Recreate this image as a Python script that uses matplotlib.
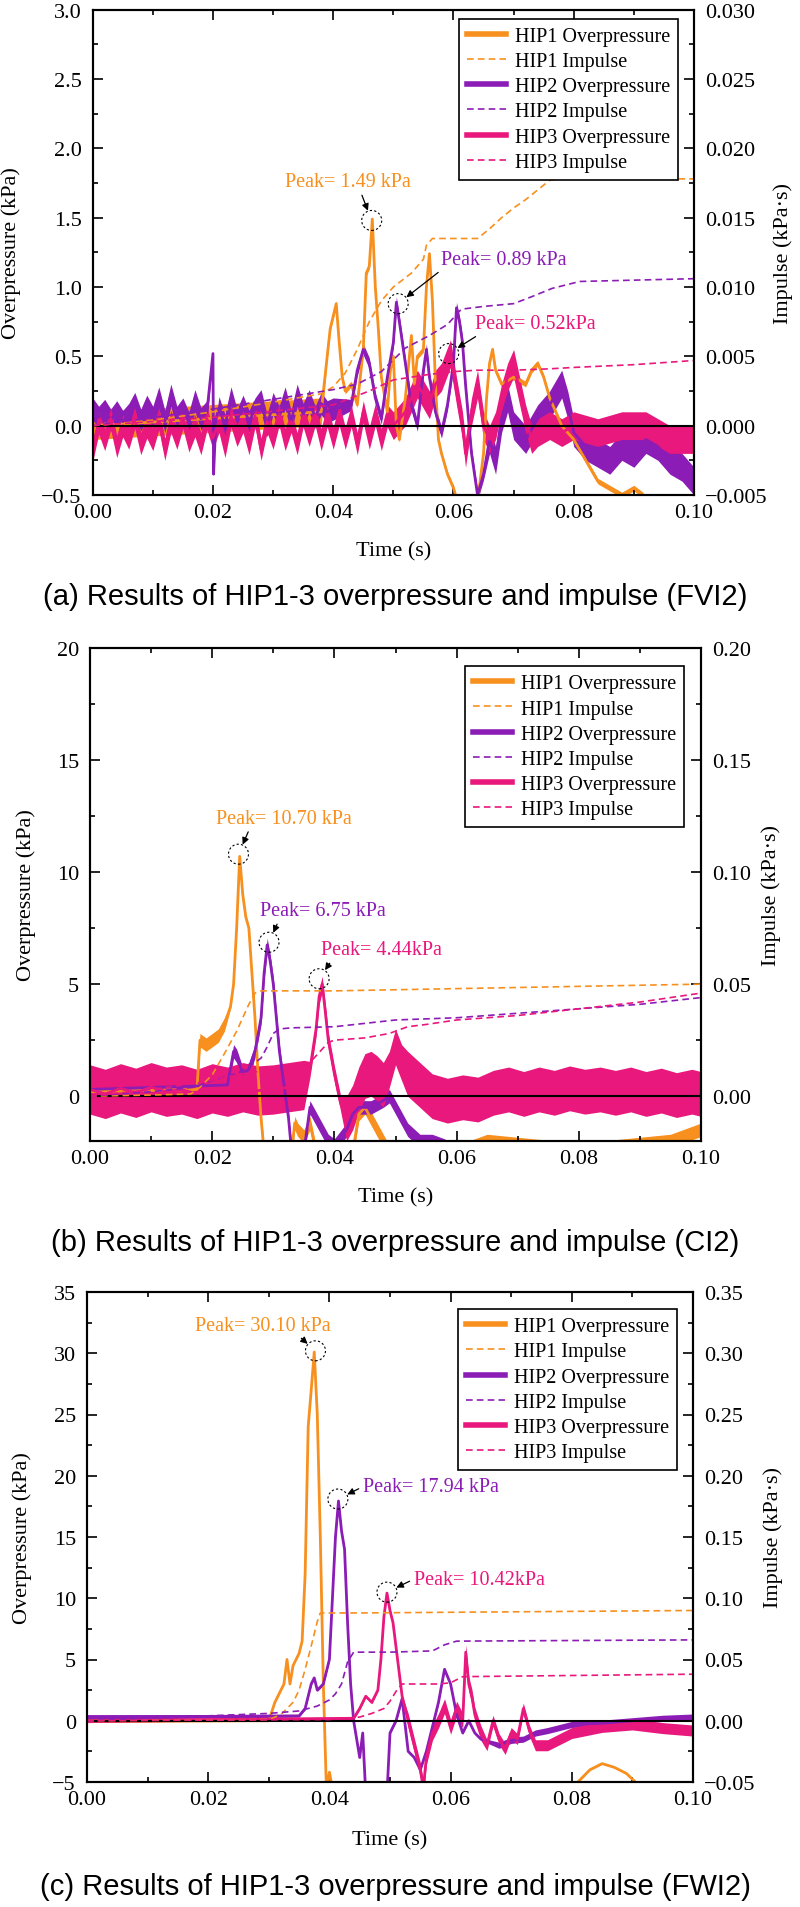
"""
Blast overpressure / impulse panels (FVI2, CI2, FWI2) for HIP1-3.
"""

import numpy as np
import matplotlib
matplotlib.use('Agg')
import matplotlib.pyplot as plt
from matplotlib.lines import Line2D
from matplotlib.patches import Circle
from matplotlib.transforms import ScaledTranslation
from matplotlib.ticker import MultipleLocator, FuncFormatter

plt.rcParams['font.family'] = ['Liberation Serif', 'DejaVu Serif']

# ---------------------------------------------------------------- data
# (a) FVI2  -- overpressure in kPa, impulse in kPa*s, time in s
fvi2_hip1_t = [0, 0.038, 0.039, 0.0395, 0.0405, 0.041, 0.0415, 0.042, 0.043, 0.044,
               0.045, 0.0455, 0.046, 0.0465, 0.047, 0.0475, 0.048, 0.049, 0.0495, 0.050,
               0.0505, 0.051, 0.052, 0.053, 0.0535, 0.054, 0.055, 0.0555, 0.056, 0.0565,
               0.057, 0.0575, 0.058, 0.059, 0.060, 0.061, 0.0625, 0.064, 0.065, 0.0655,
               0.066, 0.0665, 0.067, 0.068, 0.070, 0.072, 0.073, 0.074, 0.075, 0.076,
               0.078, 0.080, 0.082, 0.084, 0.086, 0.088, 0.090, 0.0915, 0.093, 0.1]
fvi2_hip1_p = [0.0, 0.1, 0.5, 0.7, 0.88, 0.6, 0.35, 0.25, 0.3, 0.15,
               0.55, 1.1, 1.15, 1.49, 1.0, 0.7, 0.35, 0.1, 0.4, 0.5,
               0.0, -0.1, 0.2, 0.65, 0.3, 0.5, 0.55, 1.0, 1.24, 0.9,
               0.3, -0.1, -0.2, -0.35, -0.45, -0.6, -0.7, -0.55, -0.2, 0.2,
               0.45, 0.55, 0.4, 0.3, 0.35, 0.3, 0.4, 0.45, 0.35, 0.2,
               0.0, -0.1, -0.25, -0.4, -0.45, -0.5, -0.45, -0.5, -0.7, -0.8]
fvi2_hip1_noise = [(0, 0.1), (0.0385, 0.02)]

fvi2_hip2_t = [0.000, 0.001, 0.002, 0.003, 0.004, 0.005, 0.006, 0.007, 0.008, 0.009,
               0.010, 0.011, 0.012, 0.013, 0.014, 0.015, 0.016, 0.017, 0.018, 0.019,
               0.020, 0.0201, 0.0205, 0.021, 0.022, 0.023, 0.024, 0.025, 0.026, 0.027,
               0.028, 0.029, 0.030, 0.031, 0.032, 0.033, 0.034, 0.035, 0.036, 0.037,
               0.038, 0.039, 0.040, 0.043, 0.044, 0.045, 0.046,
               0.047, 0.048, 0.049, 0.050, 0.0505, 0.051, 0.0515, 0.052, 0.053, 0.054,
               0.055, 0.0555, 0.056, 0.057, 0.058, 0.059, 0.060, 0.0605, 0.061, 0.0615,
               0.062, 0.063, 0.064, 0.065, 0.066, 0.067, 0.068, 0.069, 0.070, 0.072,
               0.074, 0.076, 0.078, 0.079, 0.080, 0.082, 0.084, 0.086, 0.088, 0.090,
               0.092, 0.094, 0.096, 0.098, 0.100]
fvi2_hip2_p = [0.12, 0.06, 0.11, 0.04, 0.10, 0.03, 0.08, 0.16, 0.04, 0.14,
               0.06, 0.20, 0.03, 0.22, 0.06, 0.12, 0.02, 0.18, 0.05, 0.10,
               0.52, -0.35, 0.05, 0.13, 0.0, 0.20, 0.04, 0.14, 0.03, 0.12,
               0.18, 0.0, 0.16, 0.06, 0.20, 0.03, 0.22, 0.08, 0.18, 0.06,
               0.16, 0.10, 0.12, 0.15, 0.4, 0.55, 0.45,
               0.2, 0.05, 0.35, 0.6, 0.89, 0.75, 0.6, 0.45, 0.15, 0.0,
               0.4, 0.55, 0.35, 0.1, -0.05, 0.15, 0.45, 0.85, 0.75, 0.6,
               0.3, -0.2, -0.5, -0.35, -0.1, -0.25, 0.05, 0.2, 0.0, -0.1,
               0.05, 0.15, 0.3, 0.15, -0.05, -0.15, -0.2, -0.25, -0.15, -0.2,
               -0.1, -0.15, -0.25, -0.3, -0.4]
fvi2_hip2_noise = [(0, 0.08), (0.0199, 0.0), (0.0206, 0.08), (0.042, 0.04), (0.066, 0.1)]

fvi2_hip3_t = [0.000, 0.001, 0.002, 0.003, 0.004, 0.005, 0.006, 0.007, 0.008, 0.009,
               0.010, 0.011, 0.012, 0.013, 0.014, 0.015, 0.016, 0.017, 0.018, 0.019,
               0.020, 0.021, 0.022, 0.023, 0.024, 0.025, 0.026, 0.027, 0.028, 0.029,
               0.030, 0.031, 0.032, 0.033, 0.034, 0.035, 0.036, 0.037, 0.038, 0.039,
               0.040, 0.041, 0.042, 0.043, 0.044, 0.045, 0.046, 0.047, 0.048, 0.049,
               0.050, 0.052, 0.054, 0.056, 0.057, 0.058, 0.0595, 0.0605, 0.0615,
               0.062, 0.063, 0.064, 0.065, 0.066, 0.067, 0.068, 0.069, 0.070, 0.0705,
               0.071, 0.072, 0.073, 0.074, 0.076, 0.078, 0.080, 0.084, 0.088, 0.092,
               0.096, 0.1]
fvi2_hip3_p = [-0.18, 0.02, -0.1, 0.05, -0.15, 0.0, -0.09, 0.06, -0.13, -0.01,
               -0.1, 0.05, -0.17, 0.03, -0.09, 0.06, -0.11, 0.0, -0.13, 0.05,
               -0.09, 0.03, -0.15, 0.07, -0.07, 0.03, -0.13, 0.07, -0.17, 0.03,
               -0.09, 0.08, -0.1, 0.03, -0.13, 0.07, -0.07, 0.08, -0.1, 0.07,
               -0.09, 0.08, -0.09, 0.07, -0.13, 0.1, -0.09, 0.08, -0.1, 0.07,
               0.0, 0.1, 0.3, 0.15, 0.3, 0.35, 0.52, 0.25, 0.0,
               -0.2, 0.1, 0.3, 0.0, -0.1, 0.0, 0.2, 0.35, 0.45, 0.35,
               0.25, 0.05, -0.1, -0.05, 0.0, -0.05, 0.0, -0.05, 0.0, 0.0,
               -0.1, -0.1]
fvi2_hip3_noise = [(0, 0.08), (0.05, 0.1)]

fvi2_imp1_t = [0, 0.01, 0.02, 0.03, 0.038, 0.040, 0.042, 0.044, 0.046, 0.048,
               0.050, 0.053, 0.055, 0.0555, 0.0565, 0.064, 0.066, 0.068, 0.070, 0.072,
               0.074, 0.076, 0.078, 0.1]
fvi2_imp1 = [0, 0.0004, 0.0010, 0.0017, 0.0023, 0.0028, 0.0038, 0.0055, 0.0075, 0.0090,
             0.0100, 0.0110, 0.0120, 0.0130, 0.0135, 0.0135, 0.0142, 0.0150, 0.0157, 0.0163,
             0.0170, 0.0177, 0.0178, 0.0178]
fvi2_imp2_t = [0, 0.01, 0.02, 0.03, 0.04, 0.044, 0.048, 0.052, 0.056, 0.059,
               0.0613, 0.065, 0.070, 0.073, 0.0764, 0.081, 0.1]
fvi2_imp2 = [0, 0.0006, 0.0012, 0.0019, 0.0026, 0.0030, 0.0039, 0.0056, 0.0065, 0.0073,
             0.0084, 0.0086, 0.0088, 0.0093, 0.0099, 0.0104, 0.0106]
fvi2_imp3_t = [0, 0.02, 0.04, 0.046, 0.050, 0.056, 0.060, 0.064, 0.070, 0.076,
               0.080, 0.090, 0.1]
fvi2_imp3 = [0, 0.0006, 0.0015, 0.0025, 0.0033, 0.0037, 0.0039, 0.0040, 0.0040, 0.0041,
             0.0042, 0.0044, 0.0047]

# (b) CI2
ci2_hip1_t = [0, 0.0175, 0.018, 0.019, 0.020, 0.021, 0.022, 0.023, 0.0235, 0.024,
              0.0245, 0.025, 0.0255, 0.026, 0.0265, 0.027, 0.0275, 0.028, 0.0285, 0.030,
              0.033, 0.0335, 0.034, 0.035, 0.036, 0.037, 0.040, 0.043, 0.044, 0.045,
              0.046, 0.047, 0.048, 0.049, 0.050, 0.060, 0.065, 0.080, 0.095, 0.1]
ci2_hip1_p = [0.2, 0.3, 2.5, 2.3, 2.5, 2.7, 3.2, 4.0, 5.0, 7.5,
              10.7, 9.0, 8.0, 7.5, 5.5, 3.5, 1.0, -1.0, -2.5, -3.0,
              -2.5, -1.2, -1.5, -1.8, -1.2, -2.5, -3.0, -2.5, -0.8, -0.5,
              -1.0, -1.5, -2.0, -2.5, -3.0, -2.5, -2.0, -2.4, -2.0, -1.5]
ci2_hip1_noise = [(0, 0.8), (0.0176, 0.3), (0.0225, 0.1), (0.028, 0.3)]

ci2_hip2_t = [0, 0.0225, 0.0235, 0.024, 0.025, 0.026, 0.027, 0.028, 0.0285, 0.029,
              0.0295, 0.030, 0.0305, 0.031, 0.032, 0.0325, 0.033, 0.035, 0.036, 0.037,
              0.038, 0.039, 0.040, 0.042, 0.043, 0.044, 0.046, 0.048, 0.049, 0.050,
              0.051, 0.052, 0.054, 0.056, 0.058, 0.060, 0.1]
ci2_hip2_p = [0.3, 0.5, 2.0, 1.8, 1.0, 1.2, 2.0, 3.5, 5.5, 6.75,
              6.0, 5.0, 3.5, 2.0, 0.0, -1.0, -2.5, -2.5, -0.5, -1.0,
              -1.5, -2.0, -2.2, -1.5, -0.8, -0.5, -0.5, -0.2, 0.0, -0.5,
              -1.0, -1.5, -2.0, -2.0, -2.2, -2.5, -2.5]
ci2_hip2_noise = [(0, 0.9), (0.0225, 0.3)]

ci2_hip3_t = [0, 0.0025, 0.005, 0.0075, 0.010, 0.0125, 0.015, 0.0175, 0.020, 0.0225,
              0.025, 0.0275, 0.030, 0.0325, 0.035, 0.036, 0.037, 0.0375, 0.038, 0.0385,
              0.039, 0.040, 0.041, 0.042, 0.043, 0.044, 0.045, 0.046, 0.047, 0.048,
              0.049, 0.050, 0.051, 0.052, 0.054, 0.056, 0.0585, 0.061, 0.0635, 0.066,
              0.0685, 0.071, 0.0735, 0.076, 0.0785, 0.081, 0.0835, 0.086, 0.0885, 0.091,
              0.0935, 0.096, 0.0985, 0.1]
ci2_hip3_p = [0.3, 0.1, 0.35, 0.15, 0.4, 0.2, 0.3, 0.1, 0.35, 0.2,
              0.4, 0.25, 0.3, 0.4, 0.5, 1.2, 3.0, 4.44, 5.0, 3.8,
              2.5, 1.0, -0.3, -1.0, -0.5, 0.3, 0.9, 1.0, 0.8, 0.5,
              1.2, 2.2, 1.5, 1.0, 0.5, 0.0, -0.2, -0.05, -0.15, 0.15,
              0.3, 0.1, 0.3, 0.15, 0.35, 0.2, 0.3, 0.15, 0.3, 0.1,
              0.25, 0.05, 0.2, 0.1]
ci2_hip3_noise = [(0, 1.1), (0.0355, 0.35), (0.0415, 1.0), (0.0485, 0.8), (0.052, 1.0)]

ci2_imp1_t = [0, 0.01, 0.0165, 0.018, 0.020, 0.022, 0.024, 0.026, 0.027, 0.028,
              0.040, 0.060, 0.080, 0.1]
ci2_imp1 = [0, 0.0005, 0.001, 0.004, 0.0095, 0.019, 0.029, 0.041, 0.046, 0.047,
            0.047, 0.048, 0.049, 0.050]
ci2_imp2_t = [0, 0.01, 0.017, 0.020, 0.024, 0.026, 0.028, 0.029, 0.030, 0.031,
              0.033, 0.040, 0.050, 0.060, 0.070, 0.080, 0.090, 0.1]
ci2_imp2 = [0, 0.002, 0.004, 0.007, 0.010, 0.013, 0.017, 0.022, 0.028, 0.030,
            0.0305, 0.031, 0.034, 0.035, 0.037, 0.039, 0.041, 0.044]
ci2_imp3_t = [0, 0.01, 0.018, 0.025, 0.030, 0.035, 0.036, 0.037, 0.038, 0.039,
              0.040, 0.045, 0.049, 0.050, 0.052, 0.055, 0.060, 0.070, 0.080, 0.090,
              0.1]
ci2_imp3 = [0, 0.003, 0.006, 0.010, 0.012, 0.013, 0.015, 0.018, 0.021, 0.024,
            0.025, 0.026, 0.028, 0.029, 0.031, 0.032, 0.034, 0.036, 0.039, 0.042,
            0.046]

# (c) FWI2
fwi2_hip1_t = [0, 0.030, 0.031, 0.032, 0.0325, 0.033, 0.0335, 0.034, 0.035, 0.0355,
               0.036, 0.0365, 0.037, 0.0375, 0.038, 0.0385, 0.039, 0.0395, 0.040, 0.0405,
               0.041, 0.080, 0.081, 0.083, 0.085, 0.087, 0.089, 0.0905, 0.1]
fwi2_hip1_p = [0.0, 0.0, 1.5, 2.5, 3.0, 5.0, 3.0, 4.5, 5.5, 6.5,
               12.0, 24.0, 27.0, 30.1, 25.0, 15.0, 3.0, -5.5, -4.2, -5.5,
               -8.0, -8.0, -5.0, -4.0, -3.5, -3.8, -4.3, -5.0, -8.0]
fwi2_hip1_noise = [(0, 0.15), (0.030, 0.05)]

fwi2_hip2_t = [0, 0.035, 0.036, 0.037, 0.0375, 0.038, 0.039, 0.040, 0.0405, 0.041,
               0.0415, 0.042, 0.0425, 0.043, 0.0435, 0.044, 0.0445, 0.045, 0.0455, 0.046,
               0.0495, 0.050, 0.051, 0.052, 0.053, 0.054, 0.055, 0.056, 0.057, 0.058,
               0.059, 0.060, 0.061, 0.062, 0.063, 0.064, 0.065, 0.068, 0.070, 0.072,
               0.074, 0.076, 0.080, 0.085, 0.090, 0.095, 0.1]
fwi2_hip2_p = [0.3, 0.4, 1.0, 3.0, 3.5, 2.5, 3.0, 5.0, 10.0, 15.0,
               17.94, 15.5, 14.0, 8.0, 3.0, 0.0, -1.5, -3.0, -1.0, -6.0,
               -6.0, -1.0, 0.0, 1.8, -2.5, -3.0, -4.0, -2.5, -0.5, 1.5,
               4.2, 3.0, 0.5, -1.0, 0.0, -1.0, -1.5, -2.0, -1.6, -1.5,
               -1.0, -0.8, -0.3, -0.2, 0.0, 0.2, 0.3]
fwi2_hip2_noise = [(0, 0.2), (0.035, 0.1), (0.066, 0.25)]

fwi2_hip3_t = [0, 0.044, 0.045, 0.046, 0.047, 0.048, 0.0485, 0.049, 0.0495, 0.050,
               0.0505, 0.051, 0.052, 0.053, 0.054, 0.055, 0.0555, 0.056, 0.057, 0.058,
               0.059, 0.060, 0.061, 0.062, 0.0625, 0.063, 0.0635, 0.064, 0.065, 0.066,
               0.067, 0.068, 0.069, 0.070, 0.071, 0.072, 0.073, 0.074, 0.076, 0.078,
               0.080, 0.085, 0.090, 0.095, 0.1]
fwi2_hip3_p = [0.0, 0.2, 1.0, 2.0, 1.5, 2.5, 5.0, 8.5, 10.42, 9.0,
               8.0, 6.0, 2.0, 0.0, -2.0, -4.0, -5.5, -3.0, -1.0, 0.0,
               1.2, -0.5, 1.0, 0.0, 5.6, 3.0, 2.0, 0.5, -1.0, -2.0,
               0.0, -1.5, -2.3, -1.0, -1.5, 1.0, -0.8, -2.0, -2.0, -1.5,
               -1.0, -0.5, -0.3, -0.6, -0.8]
fwi2_hip3_noise = [(0, 0.15), (0.044, 0.1), (0.053, 0.6), (0.066, 0.45)]

fwi2_imp1_t = [0, 0.030, 0.032, 0.034, 0.035, 0.036, 0.037, 0.038, 0.0385, 0.045, 0.1]
fwi2_imp1 = [0, 0.001, 0.005, 0.015, 0.025, 0.042, 0.061, 0.081, 0.088, 0.088, 0.090]
fwi2_imp2_t = [0, 0.01, 0.02, 0.03, 0.035, 0.038, 0.040, 0.041, 0.042, 0.043,
               0.044, 0.050, 0.057, 0.059, 0.061, 0.1]
fwi2_imp2 = [0, 0.002, 0.004, 0.006, 0.008, 0.012, 0.017, 0.022, 0.030, 0.048,
             0.056, 0.056, 0.057, 0.062, 0.065, 0.066]
fwi2_imp3_t = [0, 0.04, 0.045, 0.047, 0.049, 0.050, 0.051, 0.052, 0.058, 0.060, 0.062, 0.1]
fwi2_imp3 = [0, 0.001, 0.003, 0.006, 0.010, 0.016, 0.024, 0.030, 0.030, 0.031, 0.036, 0.038]

# peak annotations: (t, value, label, text_t, text_value, arrow start on text)
fvi2_peaks = [(0.0464, 1.48, 'Peak= 1.49 kPa', 0.0319, 1.76, (0.6, 0.05)),
              (0.0508, 0.88, 'Peak= 0.89 kPa', 0.0580, 1.20, (0.05, 0.2)),
              (0.0592, 0.52, 'Peak= 0.52kPa', 0.0636, 0.736, (0.1, 0.2))]
ci2_peaks = [(0.0243, 10.8, 'Peak= 10.70 kPa', 0.0207, 12.4, (0.25, 0.05)),
             (0.0293, 6.87, 'Peak= 6.75 kPa', 0.0279, 8.28, (0.15, 0.05)),
             (0.0375, 5.24, 'Peak= 4.44kPa', 0.0378, 6.53, (0.1, 0.05))]
fwi2_peaks = [(0.0377, 30.2, 'Peak= 30.10 kPa', 0.0179, 32.3, (0.75, 0.0)),
              (0.0414, 18.1, 'Peak= 17.94 kPa', 0.0455, 19.1, (0.0, 0.5)),
              (0.0495, 10.5, 'Peak= 10.42kPa', 0.0539, 11.55, (0.0, 0.5))]

LABELS = ['HIP1', 'HIP2', 'HIP3']
COLORS = ['#F7901E', '#8B1CB5', '#E8187D']

# ---------------------------------------------------------------- layout
FIG_W, FIG_H = 800, 1908
PANELS = [
    dict(box=(92.7, 694, 10.7, 496), ylim=(-0.5, 3.0), ystep=0.5, yfmt='%.1f',
         y2lim=(-0.005, 0.030), y2step=0.005, y2fmt='%.3f',
         over=[(fvi2_hip1_t, fvi2_hip1_p, fvi2_hip1_noise),
               (fvi2_hip2_t, fvi2_hip2_p, fvi2_hip2_noise),
               (fvi2_hip3_t, fvi2_hip3_p, fvi2_hip3_noise)],
         imp=[(fvi2_imp1_t, fvi2_imp1), (fvi2_imp2_t, fvi2_imp2), (fvi2_imp3_t, fvi2_imp3)],
         peaks=fvi2_peaks, leg=(0.9734, 0.981), ylab=(-0.119, 1.131), xlab=-0.095,
         caption='(a) Results of HIP1-3 overpressure and impulse (FVI2)', cap_y=597),
    dict(box=(90, 701, 649, 1142), ylim=(-2, 20), ystep=5, yfmt='%d',
         y2lim=(-0.02, 0.20), y2step=0.05, y2fmt='%.2f',
         over=[(ci2_hip1_t, ci2_hip1_p, ci2_hip1_noise),
               (ci2_hip2_t, ci2_hip2_p, ci2_hip2_noise),
               (ci2_hip3_t, ci2_hip3_p, ci2_hip3_noise)],
         imp=[(ci2_imp1_t, ci2_imp1), (ci2_imp2_t, ci2_imp2), (ci2_imp3_t, ci2_imp3)],
         peaks=ci2_peaks, leg=(0.972, 0.963), ylab=(-0.088, 1.098), xlab=-0.093,
         caption='(b) Results of HIP1-3 overpressure and impulse (CI2)', cap_y=1243),
    dict(box=(87, 693, 1293, 1783), ylim=(-5, 35), ystep=5, yfmt='%d',
         y2lim=(-0.05, 0.35), y2step=0.05, y2fmt='%.2f',
         over=[(fwi2_hip1_t, fwi2_hip1_p, fwi2_hip1_noise),
               (fwi2_hip2_t, fwi2_hip2_p, fwi2_hip2_noise),
               (fwi2_hip3_t, fwi2_hip3_p, fwi2_hip3_noise)],
         imp=[(fwi2_imp1_t, fwi2_imp1), (fwi2_imp2_t, fwi2_imp2), (fwi2_imp3_t, fwi2_imp3)],
         peaks=fwi2_peaks, leg=(0.9736, 0.965), ylab=(-0.091, 1.1155), xlab=-0.098,
         caption='(c) Results of HIP1-3 overpressure and impulse (FWI2)', cap_y=1887),
]

TICK_FS = 16
TEXT_FS = 14.5


def noise_width(t, breaks):
    """Half width of the noise band at each sample, from step breakpoints."""
    bt = np.array([b[0] for b in breaks])
    bw = np.array([b[1] for b in breaks])
    return bw[np.searchsorted(bt, t, side='right') - 1]


def fmt(pattern):
    def _f(v, pos):
        if abs(v) < 1e-12:
            v = 0.0
        return (pattern % v).replace('-', '\u2212')
    return FuncFormatter(_f)


def style_axis(ax, step, pattern):
    ax.yaxis.set_major_locator(MultipleLocator(step))
    ax.yaxis.set_minor_locator(MultipleLocator(step / 2))
    ax.yaxis.set_major_formatter(fmt(pattern))
    for s in ax.spines.values():
        s.set_linewidth(1.5)


fig = plt.figure(figsize=(FIG_W / 100, FIG_H / 100), dpi=100)

for cfg in PANELS:
    x0, x1, top, bot = cfg['box']
    ax = fig.add_axes([x0 / FIG_W, 1 - bot / FIG_H, (x1 - x0) / FIG_W, (bot - top) / FIG_H])
    ax2 = ax.twinx()

    # overpressure traces with their noise band
    for (t, p, nz), c in zip(cfg['over'], COLORS):
        t = np.array(t)
        p = np.array(p)
        w = noise_width(t, nz)
        ax.fill_between(t, p - w, p + w, color=c, lw=0)
        ax.plot(t, p, color=c, lw=2.0, solid_joinstyle='round')
    ax.axhline(0, color='k', lw=1.5, zorder=5)

    # impulse curves on the right axis
    for (t, v), c in zip(cfg['imp'], COLORS):
        ax2.plot(t, v, color=c, lw=1.2, ls=(0, (4, 2.5)))

    ax.set_xlim(0, 0.1)
    ax.set_ylim(*cfg['ylim'])
    ax2.set_ylim(*cfg['y2lim'])
    ax.xaxis.set_major_locator(MultipleLocator(0.02))
    ax.xaxis.set_minor_locator(MultipleLocator(0.01))
    ax.xaxis.set_major_formatter(fmt('%.2f'))
    style_axis(ax, cfg['ystep'], cfg['yfmt'])
    style_axis(ax2, cfg['y2step'], cfg['y2fmt'])

    ax.tick_params(which='both', direction='in', top=True, right=False,
                   labelsize=TICK_FS, width=1.2)
    ax.tick_params(axis='y', pad=8)
    ax.tick_params(axis='x', pad=6)
    ax.tick_params(which='major', length=7)
    ax.tick_params(which='minor', length=3.5)
    ax2.tick_params(which='both', direction='in', labelsize=TICK_FS, width=1.2, pad=8)
    ax2.tick_params(which='major', length=7)
    ax2.tick_params(which='minor', length=3.5)

    ax.set_xlabel('Time (s)', fontsize=TICK_FS)
    ax.set_ylabel('Overpressure (kPa)', fontsize=TICK_FS)
    ax2.set_ylabel('Impulse (kPa\u00b7s)', fontsize=TICK_FS)
    ax.xaxis.set_label_coords(0.5, cfg['xlab'])
    ax.yaxis.set_label_coords(cfg['ylab'][0], 0.5)
    ax2.yaxis.set_label_coords(cfg['ylab'][1], 0.5)

    # dashed circles and arrows at the peaks
    for (pt, pv, label, tt, tv, rel), c in zip(cfg['peaks'], COLORS):
        trans = fig.dpi_scale_trans + ScaledTranslation(pt, pv, ax.transData)
        ax.add_artist(Circle((0, 0), radius=0.1, transform=trans, fill=False,
                             ec='k', lw=0.8, ls=(0, (2, 2)), clip_on=False, zorder=6))
        ax.annotate(label, xy=(pt, pv), xytext=(tt, tv), color=c, fontsize=TEXT_FS,
                    ha='left', va='center', zorder=7,
                    arrowprops=dict(arrowstyle='-|>', color='k', lw=0.9,
                                    mutation_scale=10, shrinkA=1, shrinkB=7.5,
                                    relpos=rel))

    handles = []
    for name, c in zip(LABELS, COLORS):
        handles.append(Line2D([], [], color=c, lw=4, label=f'{name} Overpressure'))
        handles.append(Line2D([], [], color=c, lw=1.2, ls=(0, (4, 2.5)), label=f'{name} Impulse'))
    leg = ax2.legend(handles=handles, loc='upper right', bbox_to_anchor=cfg['leg'],
                     borderaxespad=0, fontsize=TEXT_FS, frameon=True, fancybox=False,
                     framealpha=1, edgecolor='k', handlelength=1.9, handletextpad=0.45,
                     labelspacing=0.3, borderpad=0.4)
    leg.get_frame().set_linewidth(1.2)

    fig.text(0.4945, 1 - cfg['cap_y'] / FIG_H, cfg['caption'], ha='center', va='center',
             fontsize=21, family=['Liberation Sans', 'DejaVu Sans'])

fig.savefig('out.png', dpi=100)
